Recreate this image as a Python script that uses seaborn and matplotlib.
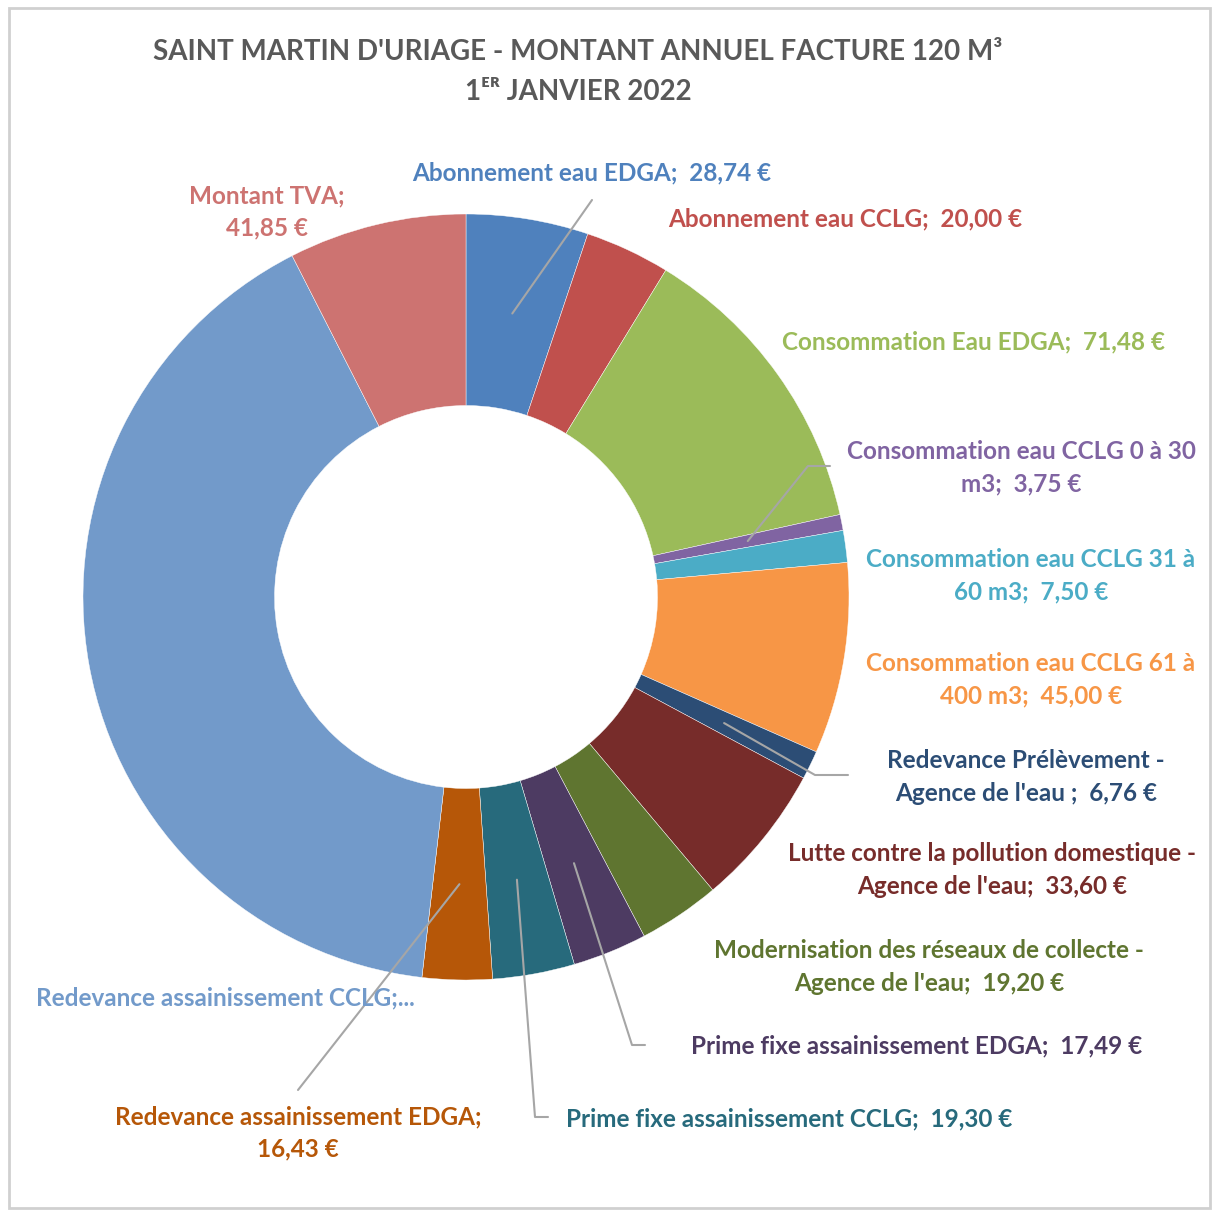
import numpy as np
import matplotlib
matplotlib.use("Agg")
import matplotlib.pyplot as plt
import seaborn as sns
from matplotlib.patches import Rectangle

# Slice data, clockwise from 12 o'clock
labels = [
    "Abonnement eau EDGA;  28,74 €",
    "Abonnement eau CCLG;  20,00 €",
    "Consommation Eau EDGA;  71,48 €",
    "Consommation eau CCLG 0 à 30\nm3;  3,75 €",
    "Consommation eau CCLG 31 à\n60 m3;  7,50 €",
    "Consommation eau CCLG 61 à\n400 m3;  45,00 €",
    "Redevance Prélèvement -\nAgence de l'eau ;  6,76 €",
    "Lutte contre la pollution domestique -\nAgence de l'eau;  33,60 €",
    "Modernisation des réseaux de collecte -\nAgence de l'eau;  19,20 €",
    "Prime fixe assainissement EDGA;  17,49 €",
    "Prime fixe assainissement CCLG;  19,30 €",
    "Redevance assainissement EDGA;\n16,43 €",
    "Redevance assainissement CCLG;...",
    "Montant TVA;\n41,85 €",
]
values = [28.74, 20.00, 71.48, 3.75, 7.50, 45.00, 6.76, 33.60, 19.20, 17.49, 19.30, 16.43, 226.90, 41.85]
colors = ["#4F81BD", "#C0504D", "#9BBB59", "#8064A2", "#4BACC6", "#F79646",
          "#2C4D75", "#772C2A", "#5F7530", "#4D3B62", "#276A7C", "#B65708",
          "#729ACA", "#CD7371"]

# layout (pixel positions of label centres in the 1215x1213 image)
label_pos = [(592, 173), (845, 219), (973, 342), (1021, 468), (1031, 576),
             (1031, 680), (1026, 777), (992, 870), (929, 967), (917, 1046),
             (789, 1119), (298, 1133), (225, 998), (267, 212)]
# leader lines: slice index -> path points after the slice anchor
leaders = {0: [(592, 200)],
           3: [(808, 466), (830, 466)],
           6: [(815, 775), (848, 775)],
           9: [(632, 1045), (645, 1045)],
           10: [(535, 1117), (548, 1117)],
           11: [(298, 1090)]}

W, H = 1215, 1213
CX, CY, R = 466, 597, 383


def px(x, y):
    return (x - CX) / R, (CY - y) / R


sns.set_theme(style="white")
plt.rcParams["font.family"] = ["Lato", "DejaVu Sans"]
palette = sns.color_palette(colors)

fig = plt.figure(figsize=(W / 100, H / 100), dpi=100)
ax = fig.add_axes([0, 0, 1, 1])

wedges, _ = ax.pie(values, colors=palette, startangle=90, counterclock=False,
                   radius=1, wedgeprops=dict(width=0.5, edgecolor="white", linewidth=0.3))
ax.set_aspect("auto")
ax.set_xlim(-CX / R, (W - CX) / R)
ax.set_ylim(-(H - CY) / R, CY / R)
ax.set_axis_off()

# frame
ax.add_patch(Rectangle(px(9, 1208), 1201 / R, 1200 / R, fill=False,
                       edgecolor="#D0D0D0", lw=2, zorder=0))

total = sum(values)
cum = np.cumsum([0] + values)
for i, pts in leaders.items():
    mid = (cum[i] + values[i] / 2) / total * 2 * np.pi
    x0, y0 = 0.75 * np.sin(mid), 0.75 * np.cos(mid)
    xs = [x0] + [px(*p)[0] for p in pts]
    ys = [y0] + [px(*p)[1] for p in pts]
    ax.plot(xs, ys, color="#A6A6A6", lw=1.5, zorder=3)

for lab, (x, y), c in zip(labels, label_pos, colors):
    ax.text(*px(x, y), lab, ha="center", va="center", color=c,
            fontsize=17.5, fontweight="bold", linespacing=1.5)

ax.text(*px(578, 52), "SAINT MARTIN D'URIAGE - MONTANT ANNUEL FACTURE 120 M³",
        ha="center", va="center", color="#595959", fontsize=20, fontweight="bold")
ax.text(*px(578, 92), "1ᴱᴿ JANVIER 2022",
        ha="center", va="center", color="#595959", fontsize=20, fontweight="bold")

fig.savefig("out.png", dpi=100)
